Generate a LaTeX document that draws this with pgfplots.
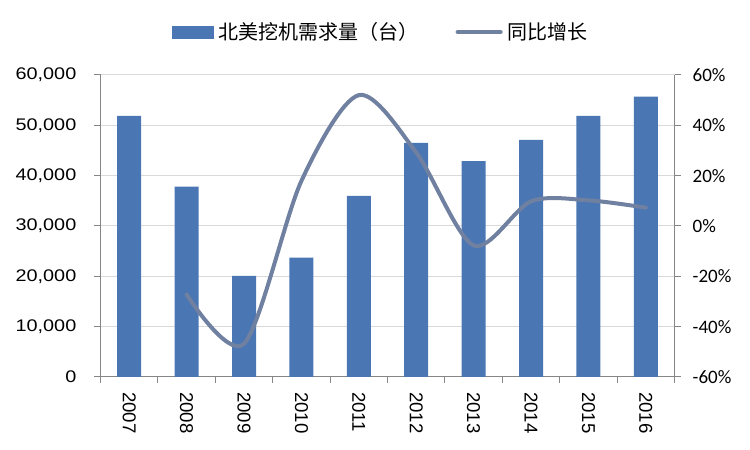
\documentclass[border=0pt]{standalone}
\usepackage{pgfplots}
\pgfplotsset{compat=1.18}
\usepackage{fontspec}
\setmainfont{Liberation Sans}
\newfontfamily\leftfont{Liberation Sans}[FakeStretch=1.18]
\newfontfamily\rightfont{Carlito}
\newfontfamily\cjk{Noto Sans CJK SC}
\definecolor{barblue}{RGB}{74,118,180}
\definecolor{linecol}{RGB}{112,128,160}
\definecolor{axgray}{RGB}{134,134,134}
\definecolor{gridgray}{RGB}{217,217,217}
\begin{document}
\begin{tikzpicture}
\useasboundingbox (0,0) rectangle (750bp,450bp);
\begin{axis}[
  at={(100.5bp,73bp)}, anchor=south west,
  scale only axis, width=574bp, height=302bp,
  xmin=-0.5, xmax=9.5, ymin=0, ymax=60000,
  scaled y ticks=false,
  axis y line*=left, axis x line*=bottom,
  axis line style={color=axgray, line width=1bp},
  tick align=outside,
  major tick length=6bp,
  tick style={color=axgray, line width=1bp},
  xtick={-0.5,0.5,...,9.5}, xticklabels={},
  extra x ticks={0,1,2,3,4,5,6,7,8,9},
  extra x tick labels={2007,2008,2009,2010,2011,2012,2013,2014,2015,2016},
  extra x tick style={major tick length=0pt, grid=none},
  xticklabel style={rotate=-90, anchor=west, inner sep=0pt, xshift=15bp,
    font=\fontsize{18.6bp}{20bp}\selectfont},
  ytick={0,10000,...,60000},
  yticklabels={0,{10,000},{20,000},{30,000},{40,000},{50,000},{60,000}},
  yticklabel style={anchor=east, inner sep=0pt, xshift=-18bp,
    font=\leftfont\fontsize{16.8bp}{20bp}\selectfont},
  ymajorgrids,
  major grid style={color=gridgray, line width=1bp},
  clip=false,
]
\addplot[ybar, bar width=24bp, fill=barblue, draw=none, bar shift=0pt]
  coordinates {(0,51900) (1,37800) (2,20100) (3,23700) (4,36000) (5,46500) (6,42900) (7,47100) (8,51900) (9,55700)};
\end{axis}
\begin{axis}[
  at={(100.5bp,73bp)}, anchor=south west,
  scale only axis, width=574bp, height=302bp,
  xmin=-0.5, xmax=9.5, ymin=-60, ymax=60,
  axis y line*=right, axis x line=none,
  axis line style={color=axgray, line width=1bp},
  tick align=outside,
  major tick length=6bp,
  tick style={color=axgray, line width=1bp},
  ytick={-60,-40,...,60},
  yticklabels={-60\%,-40\%,-20\%,0\%,20\%,40\%,60\%},
  yticklabel style={anchor=west, inner sep=0pt, xshift=12bp,
    font=\rightfont\fontsize{19bp}{22bp}\selectfont},
  legend columns=2,
  legend style={draw=none, fill=none, inner sep=0pt, at={(0.1246,1.1424)}, anchor=west,
    nodes={inner sep=0pt, font=\cjk\fontsize{20bp}{22bp}\selectfont},
    /tikz/every odd column/.append style={column sep=5bp},
    /tikz/every even column/.append style={column sep=37bp}},
  clip=false,
]
\addlegendimage{legend image code/.code={\fill[barblue] (0bp,-6bp) rectangle (41bp,6bp);}}
\addlegendentry{北美挖机需求量（台）}
\addplot[linecol, line width=4bp, smooth, line cap=round,
  legend image code/.code={\draw[line cap=round] (0bp,0bp) -- (43bp,0bp);}]
  coordinates {(1,-27.2) (2,-46.8) (3,17.9) (4,52) (5,29.2) (6,-7.7) (7,9.8) (8,10.2) (9,7.3)};
\addlegendentry{同比增长}
\end{axis}
\end{tikzpicture}
\end{document}
